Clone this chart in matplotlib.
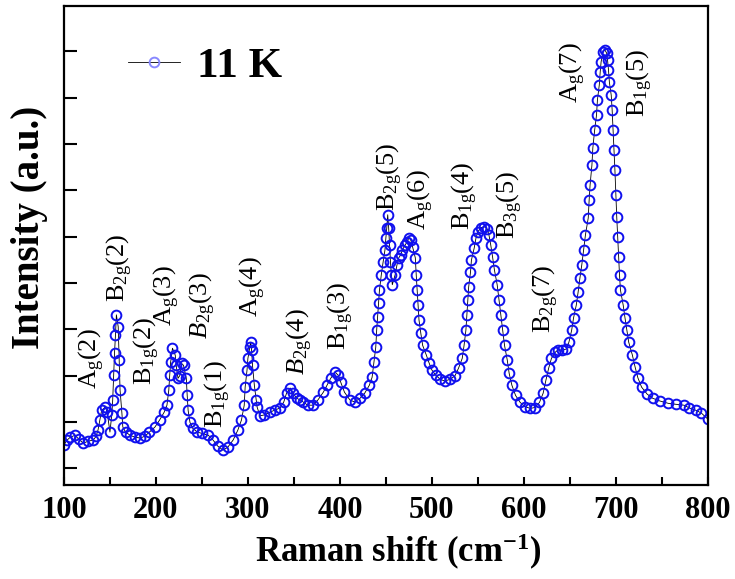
import matplotlib
matplotlib.use('Agg')
import matplotlib.pyplot as plt
from matplotlib.ticker import MultipleLocator, NullFormatter

plt.rcParams['font.family'] = 'Liberation Serif'
plt.rcParams['mathtext.fontset'] = 'custom'
plt.rcParams['mathtext.rm'] = 'Liberation Serif'
plt.rcParams['mathtext.it'] = 'Liberation Serif:italic'
plt.rcParams['mathtext.bf'] = 'Liberation Serif:bold'

# Raman spectrum at 11 K (intensity in arbitrary units)
shift = [100, 103, 107, 112, 116, 121, 126, 132, 135, 137, 139, 141, 145, 147, 150,
         152, 153, 154, 155, 156, 157, 159, 160, 161, 163, 164, 167, 172, 177, 183,
         188, 193, 199, 204, 209, 212, 214, 215, 216, 218, 221, 222, 224, 226, 228,
         230, 233, 234, 235, 237, 240, 245, 250, 257, 262, 267, 273, 278, 284, 289,
         293, 296, 297, 299, 300, 302, 303, 304, 305, 307, 309, 310, 313, 318, 324,
         329, 335, 339, 342, 346, 349, 353, 357, 360, 365, 371, 376, 382, 386, 390,
         395, 398, 401, 405, 411, 416, 422, 427, 432, 435, 437, 439, 440, 441, 442,
         443, 445, 447, 449, 450, 451, 452, 453, 454, 455, 456, 457, 460, 462, 464,
         466, 468, 471, 473, 475, 477, 479, 482, 483, 484, 485, 486, 488, 490, 494,
         497, 500, 504, 509, 514, 520, 525, 529, 533, 535, 537, 538, 539, 540, 542,
         543, 546, 548, 550, 553, 557, 560, 562, 564, 566, 568, 571, 573, 575, 577,
         579, 582, 584, 587, 591, 596, 601, 607, 612, 617, 621, 624, 627, 630, 634,
         637, 641, 646, 649, 652, 654, 657, 659, 661, 663, 665, 667, 670, 671, 672,
         674, 675, 677, 679, 680, 682, 683, 684, 686, 688, 690, 691, 692, 693, 695,
         696, 697, 698, 699, 700, 701, 702, 703, 704, 705, 708, 710, 712, 714, 718,
         721, 724, 728, 734, 740, 748, 757, 765, 774, 780, 787, 793, 800]
intensity = [1.50, 1.60, 1.67, 1.71, 1.63, 1.54, 1.58, 1.61, 1.69, 1.82, 2.04, 2.25, 2.32, 2.21, 1.78,
             2.15, 2.47, 3.01, 3.49, 3.87, 4.31, 4.05, 3.33, 2.69, 2.19, 1.89, 1.78, 1.71, 1.67, 1.65,
             1.69, 1.78, 1.89, 2.04, 2.21, 2.36, 2.69, 3.01, 3.29, 3.59, 3.44, 3.22, 2.94, 3.00, 3.26,
             3.22, 2.94, 2.57, 2.25, 1.99, 1.86, 1.78, 1.75, 1.71, 1.61, 1.48, 1.39, 1.45, 1.61, 1.82,
             2.04, 2.36, 2.75, 3.11, 3.37, 3.61, 3.72, 3.55, 3.22, 2.79, 2.47, 2.32, 2.13, 2.15, 2.21,
             2.25, 2.30, 2.43, 2.62, 2.73, 2.62, 2.51, 2.47, 2.43, 2.36, 2.36, 2.47, 2.64, 2.79, 2.94,
             3.07, 3.01, 2.85, 2.64, 2.47, 2.43, 2.51, 2.62, 2.79, 2.96, 3.29, 3.61, 3.98, 4.26, 4.56,
             4.84, 5.17, 5.45, 5.71, 5.97, 6.19, 6.47, 6.19, 5.81, 5.45, 5.17, 4.96, 5.17, 5.38, 5.54,
             5.60, 5.71, 5.82, 5.88, 5.97, 5.93, 5.78, 5.54, 5.17, 4.85, 4.52, 4.20, 3.91, 3.65, 3.44,
             3.27, 3.12, 3.01, 2.92, 2.88, 2.92, 2.99, 3.16, 3.37, 3.65, 3.98, 4.30, 4.63, 4.91, 5.23,
             5.49, 5.75, 5.97, 6.10, 6.19, 6.21, 6.17, 6.04, 5.82, 5.56, 5.28, 4.96, 4.63, 4.30, 3.98,
             3.65, 3.33, 3.05, 2.79, 2.57, 2.42, 2.33, 2.29, 2.31, 2.42, 2.62, 2.90, 3.16, 3.37, 3.50,
             3.55, 3.55, 3.57, 3.72, 3.98, 4.24, 4.52, 4.80, 5.11, 5.39, 5.71, 6.04, 6.40, 6.79, 7.11,
             7.54, 7.91, 8.30, 8.62, 8.95, 9.27, 9.55, 9.77, 9.98, 10.03, 9.96, 9.81, 9.60, 9.33, 9.05,
             8.73, 8.30, 7.87, 7.44, 6.90, 6.42, 5.99, 5.56, 5.17, 4.85, 4.52, 4.24, 3.98, 3.72, 3.44,
             3.18, 2.95, 2.75, 2.60, 2.51, 2.45, 2.40, 2.38, 2.36, 2.30, 2.25, 2.19, 2.06]

# mode labels and where they sit
mode_labels = [r'$\mathrm{A_g}$(2)', r'$\mathrm{B_{2g}}$(2)', r'$\mathrm{B_{1g}}$(2)',
               r'$\mathrm{A_g}$(3)', r'$\mathit{B}_{\mathrm{2g}}$(3)', r'$\mathrm{B_{1g}}$(1)',
               r'$\mathrm{A_g}$(4)', r'$\mathit{B}_{\mathrm{2g}}$(4)', r'$\mathrm{B_{1g}}$(3)',
               r'$\mathrm{B_{2g}}$(5)', r'$\mathrm{A_g}$(6)', r'$\mathrm{B_{1g}}$(4)',
               r'$\mathrm{B_{3g}}$(5)', r'$\mathrm{B_{2g}}$(7)', r'$\mathrm{A_g}$(7)',
               r'$\mathrm{B_{1g}}$(5)']
label_x = [130, 161, 190, 212, 251, 267, 305, 357, 401, 454, 488, 536, 585, 624, 653, 726]
label_y = [3.36, 5.32, 3.53, 4.73, 4.51, 2.61, 4.91, 3.74, 4.30, 7.29, 6.79, 6.87, 6.68, 4.65, 9.53, 9.31]

fig = plt.figure(figsize=(7.35, 5.79), dpi=100)
ax = fig.add_axes([0.087, 0.162, 0.876, 0.828])

ax.plot(shift, intensity, color='black', lw=0.6, marker='o', ms=7,
        mfc='none', mec='#1010ee', mew=1.4, label='11 K')

for lab, x, y in zip(mode_labels, label_x, label_y):
    ax.text(x, y, lab, rotation=90, ha='center', va='center', fontsize=19)

ax.set_xlim(100, 800)
ax.set_ylim(0.633, 10.98)
ax.xaxis.set_major_locator(MultipleLocator(100))
ax.xaxis.set_minor_locator(MultipleLocator(50))
ax.yaxis.set_major_locator(MultipleLocator(1))
ax.yaxis.set_major_formatter(NullFormatter())
ax.tick_params(which='both', direction='in', width=1.5, top=False, right=False)
ax.tick_params(axis='x', which='both', length=6, labelsize=22, pad=8)
ax.tick_params(axis='y', length=9)
for lab in ax.get_xticklabels():
    lab.set_fontweight('bold')
for sp in ax.spines.values():
    sp.set_linewidth(1.6)

ax.set_xlabel(r'Raman shift (cm$^{\mathbf{-1}}$)', fontsize=25, fontweight='bold')
ax.xaxis.set_label_coords(0.519, -0.14)
ax.xaxis.label.set_va('center')
ax.set_ylabel('Intensity (a.u.)', fontsize=28, fontweight='bold')
ax.yaxis.set_label_coords(-0.053, 0.537)
ax.yaxis.label.set_va('center')

leg = ax.legend(loc='upper left', frameon=False, prop={'weight': 'bold', 'size': 31},
                handlelength=1.2, handletextpad=0.4, bbox_to_anchor=(0.04, 0.995))
for h in leg.legend_handles:
    h.set_markeredgecolor('#8888ff')
    h.set_color('black')

fig.savefig('out.png', dpi=100)
